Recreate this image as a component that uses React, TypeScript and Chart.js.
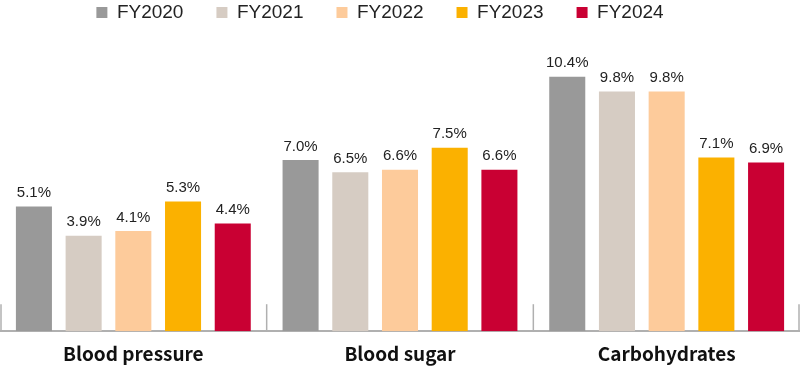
import React, { useEffect, useRef } from "react";
import { Chart, registerables } from "chart.js";

Chart.register(...registerables);

const categories = ["Blood pressure", "Blood sugar", "Carbohydrates"];
const seriesNames = ["FY2020", "FY2021", "FY2022", "FY2023", "FY2024"];
const fy2020 = [5.1, 7.0, 10.4];
const fy2021 = [3.9, 6.5, 9.8];
const fy2022 = [4.1, 6.6, 9.8];
const fy2023 = [5.3, 7.5, 7.1];
const fy2024 = [4.4, 6.6, 6.9];
const colors = ["#999999", "#d6ccc3", "#fdcb9b", "#fbb100", "#c90033"];

const labelPlugin = {
  id: "valueLabels",
  afterDatasetsDraw(chart: any) {
    const ctx = chart.ctx;
    ctx.save();
    ctx.font = "15px 'Liberation Sans', Arial, sans-serif";
    ctx.fillStyle = "#222";
    ctx.textAlign = "center";
    ctx.textBaseline = "bottom";
    chart.data.datasets.forEach((ds: any, i: number) => {
      const meta = chart.getDatasetMeta(i);
      meta.data.forEach((bar: any, j: number) => {
        ctx.fillText(ds.data[j].toFixed(1) + "%", bar.x, bar.y - 6);
      });
    });
    ctx.restore();
  },
};

const sepPlugin = {
  id: "separators",
  afterLayout(chart: any) {
    if (chart.legend) {
      chart.legend.left -= 20;
      chart.legend.right -= 20;
    }
  },
  afterDraw(chart: any) {
    const x = chart.scales.x;
    const ctx = chart.ctx;
    const n = categories.length;
    ctx.save();
    ctx.strokeStyle = "#b0b0b0";
    ctx.lineWidth = 1.5;
    for (let i = 0; i <= n; i++) {
      let px = x.left + (i * (x.right - x.left)) / n;
      if (px < 1) px = 1;
      if (px > chart.width - 1) px = chart.width - 1;
      ctx.beginPath();
      ctx.moveTo(px, x.top);
      ctx.lineTo(px, x.top - 27);
      ctx.stroke();
    }
    ctx.restore();
  },
};

export default function App() {
  const ref = useRef<HTMLCanvasElement>(null);
  useEffect(() => {
    const data = [fy2020, fy2021, fy2022, fy2023, fy2024];
    const chart = new Chart(ref.current!, {
      type: "bar",
      data: {
        labels: categories,
        datasets: seriesNames.map((name, i) => ({
          label: name,
          data: data[i],
          backgroundColor: colors[i],
          categoryPercentage: 0.932,
          barPercentage: 0.725,
        })),
      },
      options: {
        animation: false,
        responsive: false,
        maintainAspectRatio: false,
        layout: { padding: { top: 0, left: 0, right: 0, bottom: 6 } },
        plugins: {
          legend: {
            position: "top",
            align: "center",
            labels: {
              boxWidth: 11,
              boxHeight: 11,
              padding: 33,
              color: "#222",
              font: { family: "'Liberation Sans', Arial, sans-serif", size: 19 },
            },
          },
          tooltip: { enabled: false },
        },
        scales: {
          x: {
            grid: { display: false },
            border: { display: true, color: "#b0b0b0", width: 2 },
            ticks: {
              color: "#111",
              padding: 3,
              font: { family: "'Noto Sans CJK JP', 'Noto Sans', sans-serif", size: 19, weight: "bold" },
            },
          },
          y: { display: false, min: 0, max: 12.23 },
        },
      },
      plugins: [labelPlugin, sepPlugin],
    });
    return () => chart.destroy();
  }, []);
  return (
    <div style={{ position: "absolute", left: 0, top: -30, width: 800, height: 404 }}>
      <canvas ref={ref} width={800} height={404} style={{ width: 800, height: 404 }} />
    </div>
  );
}
